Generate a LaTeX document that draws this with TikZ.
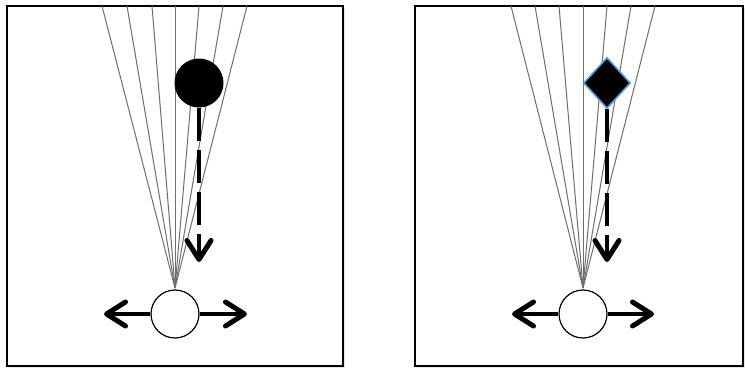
\documentclass[tikz,border=0pt]{standalone}
\usetikzlibrary{arrows.meta,shapes.geometric,shadows}
\definecolor{rayg}{HTML}{6E6E6E}
\definecolor{dblue}{HTML}{5B9BD5}
\tikzset{
  panel/.style={draw=black, line width=1.6pt, fill=white, inner sep=0pt,
    drop shadow={opacity=0.18, shadow xshift=1.5pt, shadow yshift=-1.5pt}},
  ray/.style={draw=rayg, line width=1pt},
  eye/.style={circle, draw=black, line width=1.2pt, fill=white, minimum size=48pt, inner sep=0pt},
  ball/.style={circle, fill=black, minimum size=49pt, inner sep=0pt},
  gem/.style={diamond, fill=black, draw=dblue, line width=1.6pt, minimum width=47pt, minimum height=51pt, inner sep=0pt},
  barb/.style={-{Straight Barb[length=19pt,width=24pt,line width=5pt 0,round]}},
  move/.style={line width=3.5pt, barb},
  fall/.style={line width=4pt, dash pattern=on 33pt off 9pt, barb}
}
\begin{document}
\begin{tikzpicture}[x=1pt,y=-1pt]
\useasboundingbox (0,0) rectangle (745,368);
% panels
\node[panel, minimum width=336pt, minimum height=360pt] (boxL) at (175,186) {};
\node[panel, minimum width=328pt, minimum height=360pt] (boxR) at (579,186) {};
% left panel
\coordinate (fL) at (175,288);
\foreach \x [count=\i] in {102,127,152,175,199,223,247}{
  \coordinate (tL\i) at (\x,6);
  \draw[ray] (tL\i) -- (fL);
}
\node[eye] (eyeL) at (175,314) {};
\coordinate (lL) at (104,314);
\coordinate (rL) at (247,314);
\draw[move] (eyeL.west) -- (lL);
\draw[move] (eyeL.east) -- (rL);
\node[ball] (objL) at (199,83) {};
\coordinate (dL) at (199,262);
\draw[fall] (objL.south) -- (dL);
% right panel
\coordinate (fR) at (583,288);
\foreach \x [count=\i] in {511,535,559,583,607,631,655}{
  \coordinate (tR\i) at (\x,6);
  \draw[ray] (tR\i) -- (fR);
}
\node[eye] (eyeR) at (583,314) {};
\coordinate (lR) at (512,314);
\coordinate (rR) at (654,314);
\draw[move] (eyeR.west) -- (lR);
\draw[move] (eyeR.east) -- (rR);
\node[gem] (objR) at (607,83) {};
\coordinate (dR) at (607,262);
\draw[fall] (objR.south) -- (dR);
\end{tikzpicture}
\end{document}
